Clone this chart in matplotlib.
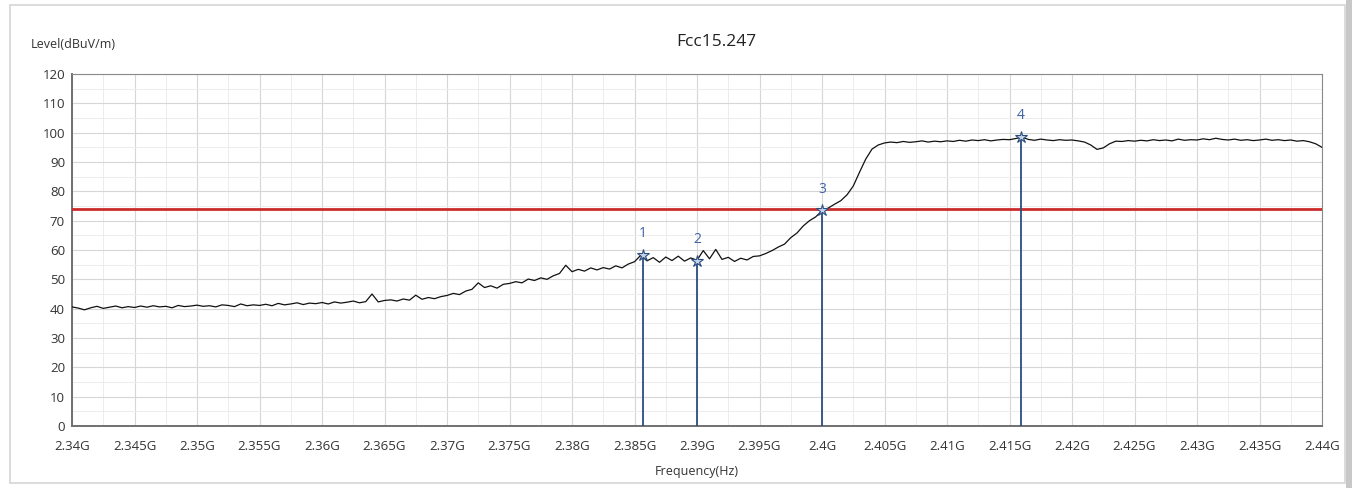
import numpy as np
import matplotlib
matplotlib.use("Agg")
import matplotlib.pyplot as plt
from matplotlib.ticker import MultipleLocator, FuncFormatter
from matplotlib.patches import Rectangle

plt.rcParams['font.family'] = ['Open Sans', 'DejaVu Sans']

# ---- data ----
freq_start_ghz = 2.340
freq_step_ghz = 0.0005
level_dbuv = [
    40.6, 40.2, 39.6, 40.3, 40.8, 40.1, 40.5, 40.9, 40.3, 40.7,
    40.4, 40.9, 40.5, 41.0, 40.6, 40.8, 40.3, 41.1, 40.7, 40.9,
    41.2, 40.8, 41.0, 40.6, 41.3, 41.1, 40.7, 41.6, 41.0, 41.3,
    41.1, 41.5, 41.0, 41.8, 41.3, 41.6, 42.0, 41.4, 41.9, 41.7,
    42.1, 41.6, 42.3, 41.9, 42.2, 42.6, 42.0, 42.4, 45.0, 42.3,
    42.8, 43.0, 42.6, 43.3, 42.9, 44.6, 43.2, 43.8, 43.4, 44.1,
    44.5, 45.2, 44.8, 46.0, 46.6, 48.8, 47.2, 47.8, 47.0, 48.3,
    48.6, 49.2, 48.8, 50.1, 49.6, 50.5, 50.0, 51.2, 52.0, 54.8,
    52.6, 53.4, 52.8, 53.9, 53.2, 54.0, 53.5, 54.6, 53.9, 55.2,
    56.0, 58.2, 56.3, 57.4, 55.8, 57.6, 56.4, 57.9, 56.2, 57.3,
    56.5, 59.8, 57.0, 60.2, 56.8, 57.5, 56.1, 57.2, 56.6, 57.8,
    58.0, 58.8, 59.8, 61.0, 62.0, 64.2, 65.8, 68.2, 70.0, 71.3,
    73.4, 74.3, 75.6, 76.8, 78.8, 81.8, 86.5, 91.0, 94.4, 95.8,
    96.5, 96.8, 96.6, 97.0, 96.7, 96.9, 97.2, 96.8, 97.1, 96.9,
    97.2, 97.0, 97.4, 97.1, 97.5, 97.3, 97.6, 97.2, 97.5, 97.7,
    97.6, 98.0, 98.5, 97.7, 97.4, 97.8, 97.5, 97.3, 97.6, 97.4,
    97.5, 97.2, 96.8, 95.8, 94.3, 94.8, 96.2, 97.1, 97.0, 97.3,
    97.1, 97.4, 97.2, 97.6, 97.3, 97.5, 97.2, 97.8, 97.4, 97.6,
    97.5, 97.9, 97.6, 98.1, 97.7, 97.5, 97.8, 97.4, 97.6, 97.3,
    97.5, 97.8, 97.4, 97.6, 97.3, 97.5, 97.1, 97.3, 96.9, 96.2,
    95.0,
]
limit_level = 74.0
marker_labels = ["1", "2", "3", "4"]
marker_freqs = [2.3857, 2.3900, 2.4000, 2.4159]
marker_levels = [58.2, 56.4, 73.5, 98.6]

title = "Fcc15.247"
y_label = "Level(dBuV/m)"
x_label = "Frequency(Hz)"

freqs = freq_start_ghz + freq_step_ghz * np.arange(len(level_dbuv))

# ---- figure ----
W, H = 1358, 488
fig = plt.figure(figsize=(W / 100, H / 100), dpi=100)
fig.patch.set_facecolor("white")
fig.patches.append(Rectangle((10 / W, 5 / H), 1335 / W, 478 / H, transform=fig.transFigure,
                             fill=False, edgecolor="#d6d6d6", linewidth=1.2))
fig.patches.append(Rectangle((1346 / W, 0), 6 / W, 1, transform=fig.transFigure,
                             facecolor="#c8c8c8", edgecolor="none"))

ax = fig.add_axes([72 / W, 1 - 426 / H, 1250 / W, 352 / H])
ax.set_xlim(2.34, 2.44)
ax.set_ylim(0, 120)

ax.xaxis.set_major_locator(MultipleLocator(0.005))
ax.xaxis.set_minor_locator(MultipleLocator(0.0025))
ax.yaxis.set_major_locator(MultipleLocator(10))
ax.yaxis.set_minor_locator(MultipleLocator(5))
ax.xaxis.set_major_formatter(FuncFormatter(lambda v, p: f"{round(v, 4):g}G"))

ax.grid(which="major", color="#d6d6d6", linewidth=0.8)
ax.grid(which="minor", color="#ececec", linewidth=0.7)
ax.set_axisbelow(True)

ax.tick_params(which="both", length=0, labelsize=9.5, colors="#333333")
ax.tick_params(axis="x", pad=10)
ax.tick_params(axis="y", pad=5)
for s in ["left", "bottom"]:
    ax.spines[s].set_color("#707070")
    ax.spines[s].set_linewidth(1.4)
for s in ["top", "right"]:
    ax.spines[s].set_color("#8a8a8a")
    ax.spines[s].set_linewidth(0.8)

ax.plot(freqs, level_dbuv, color="#111111", linewidth=0.9, zorder=3)
ax.axhline(limit_level, color="#cc2b2b", linewidth=2.0, zorder=4)

for lab, f, lv in zip(marker_labels, marker_freqs, marker_levels):
    ax.vlines(f, 0, lv, color="#2c4d80", linewidth=1.3, zorder=5)
    ax.plot([f], [lv], marker="*", markersize=9, markerfacecolor="#c8d4ea",
            markeredgecolor="#2c4d80", markeredgewidth=0.8, zorder=6)
    ax.annotate(lab, (f, lv), xytext=(0, 10), textcoords="offset points",
                ha="center", va="bottom", color="#3f62a6", fontsize=10)

fig.text(716 / W, 1 - 42 / H, title, ha="center", va="center", fontsize=12.5, color="#222222")
fig.text(31 / W, 1 - 44 / H, y_label, ha="left", va="center", fontsize=9, color="#333333")
fig.text(697 / W, 1 - 471 / H, x_label, ha="center", va="center", fontsize=9, color="#333333")

fig.savefig("out.png", dpi=100)
